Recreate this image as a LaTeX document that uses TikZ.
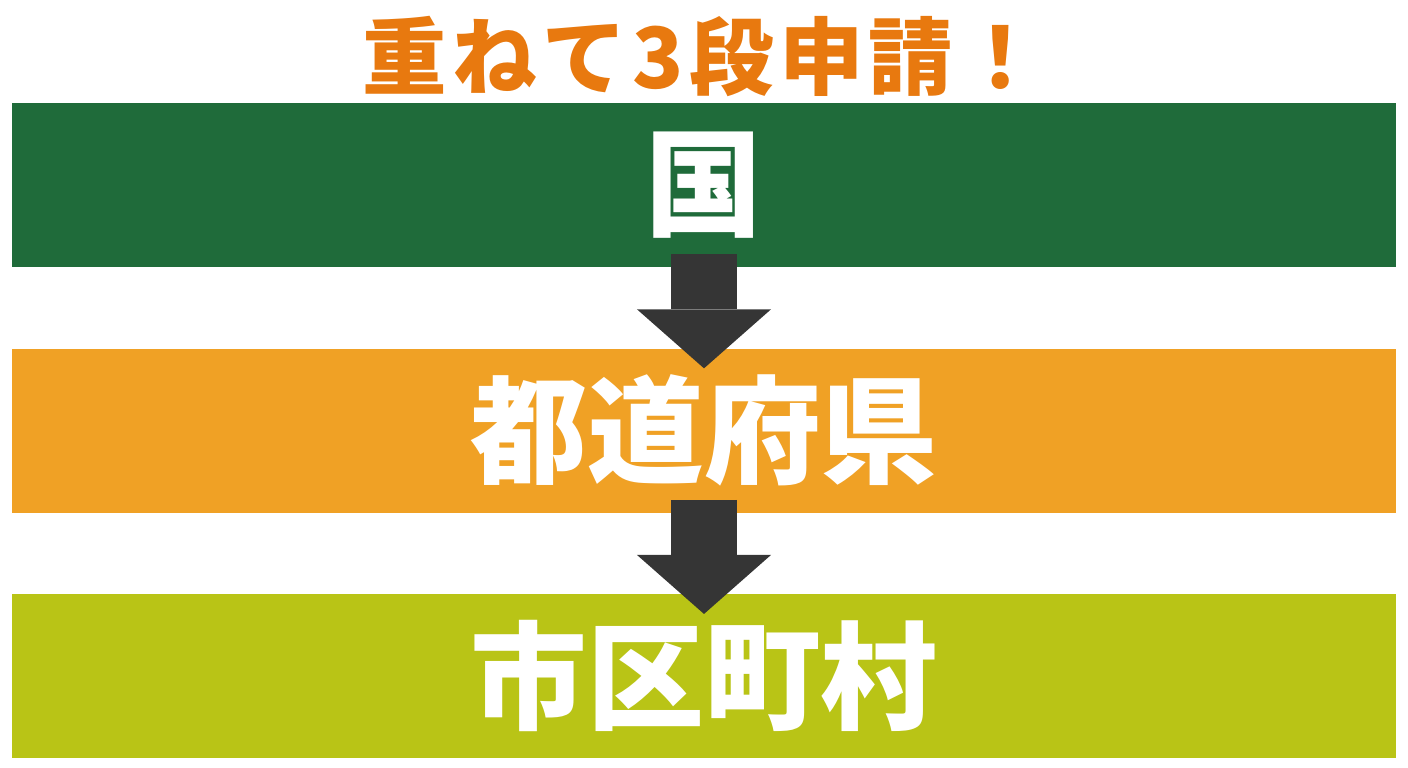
\documentclass[tikz,border=0pt]{standalone}
\usepackage{fontspec}
\newfontfamily\cjk{Noto Sans CJK JP}
\newfontfamily\cjkwide{Noto Sans CJK JP}[LetterSpace=6.5]
\usetikzlibrary{arrows.meta,positioning}
\definecolor{kunigreen}{HTML}{1F6B3A}
\definecolor{kenorange}{HTML}{F0A125}
\definecolor{shiolive}{HTML}{B9C416}
\definecolor{titleorange}{HTML}{E8790F}
\definecolor{arrowgray}{HTML}{353535}

\begin{document}
\begin{tikzpicture}[x=0.025cm,y=-0.025cm,node distance=2.025cm,
	level/.style={minimum width=34.6cm,minimum height=4.1cm,inner sep=0pt,text=white,
		font=\cjk\bfseries\fontsize{83pt}{83pt}\selectfont},
	flow/.style={draw=arrowgray,line width=1.65cm,
		-{Triangle[width=3.35cm,length=1.475cm,line width=0pt]}}]

\useasboundingbox (0,0) rectangle (1408,768);

\node[text=titleorange,font=\cjkwide\bfseries\fontsize{60pt}{60pt}\selectfont] (title) at (703,56) {重ねて3段申請！};

\node[level,fill=kunigreen]   (kuni) at (704,185) {国};
	\node[level,fill=kenorange] (ken)  [below=of kuni] {都道府県};
	\node[level,fill=shiolive]  (shi)  [below=of ken]  {市区町村};

\path[flow] ([yshift=0.325cm]kuni.south) -- ([yshift=-0.5cm]ken.north);
	\path[flow] ([yshift=0.325cm]ken.south)  -- ([yshift=-0.5cm]shi.north);

\end{tikzpicture}
\end{document}
